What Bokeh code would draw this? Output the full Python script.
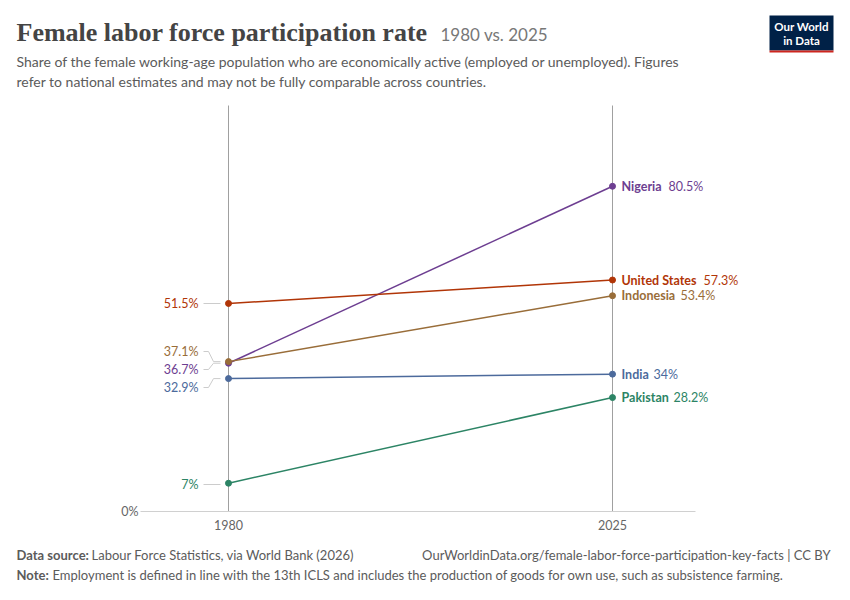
from bokeh.plotting import figure
from bokeh.models import Label, BoxAnnotation, Range1d, ColumnDataSource
from bokeh.embed import file_html
from bokeh.resources import INLINE
from bokeh.core.properties import value

countries = ["Nigeria", "United States", "Indonesia", "India", "Pakistan"]
v1980 = [36.7, 51.5, 37.1, 32.9, 7.0]
v2025 = [80.5, 57.3, 53.4, 34.0, 28.2]
lab1980 = ["36.7%", "51.5%", "37.1%", "32.9%", "7%"]
lab2025 = ["80.5%", "57.3%", "53.4%", "34%", "28.2%"]
colors = ["#6D3E91", "#B13507", "#996D39", "#4C6A9C", "#2C8465"]
years = [1980, 2025]

W, H = 834, 584
FONT = "Lato"
PX_YR = 384 / 45
PX_PCT = 4.04

p = figure(width=W, height=H, output_backend="svg", toolbar_location=None,
           x_range=Range1d(1980 - 228 / PX_YR, 1980 + (W - 228) / PX_YR),
           y_range=Range1d(-(H - 511) / PX_PCT, 511 / PX_PCT),
           min_border=0)
p.axis.visible = False
p.grid.visible = False
p.outline_line_color = None


def lab(x, y, text, size="13px", color="#5b5b5b", align="left", style="normal", font=FONT):
    p.add_layout(Label(x=x, y=H - y, x_units="screen", y_units="screen", text=text,
                       text_font=font, text_font_size=size, text_color=color,
                       text_align=align, text_baseline="middle", text_font_style=style))


def dy(py):
    return (511 - py) / PX_PCT


def dx(px):
    return 1980 + (px - 228) / PX_YR


# year verticals and baseline
for yr in years:
    p.segment(x0=yr, x1=yr, y0=0, y1=dy(105), line_color="#a0a0a0", line_width=1)
p.segment(x0=dx(140), x1=dx(695), y0=0, y1=0, line_color="#d0d0d0", line_width=1)

# slope lines
for c, a, b, col in zip(countries, v1980, v2025, colors):
    src = ColumnDataSource(dict(x=years, y=[a, b]))
    p.line("x", "y", source=src, line_color=col, line_width=1.5)
    p.scatter("x", "y", source=src, size=6, fill_color=col, line_color=col)

# right labels
name_w = [43, 78, 55, 28, 48]
for c, b, l, col, w in zip(countries, v2025, lab2025, colors, name_w):
    p.text(x=[2025], y=[b], text=[c], x_offset=9, text_font=value(FONT), text_font_size="12.5px",
           text_font_style="bold", text_color=col, text_baseline="middle")
    p.text(x=[2025], y=[b], text=[l], x_offset=9 + w + 4, text_font=value(FONT), text_font_size="12.5px",
           text_color=col, text_baseline="middle")

# left labels (placed to avoid overlap)
label_py = [369, 303, 351, 387, 484]
for v, l, col, py in zip(v1980, lab1980, colors, label_py):
    lab(198, py, l, size="12.5px", color=col, align="right")
    if abs(dy(py) - v) < 1:
        p.line(x=[dx(203), dx(220)], y=[dy(py), dy(py)], line_color="#cccccc", line_width=1)
    else:
        p.line(x=[dx(203), dx(208), dx(213), dx(220)], y=[dy(py), dy(py), v, v],
               line_color="#cccccc", line_width=1)

# axis texts
lab(138, 511, "0%", size="12.5px", color="#666666", align="right")
lab(228, 524, "1980", size="12.5px", color="#666666", align="center")
lab(612, 524, "2025", size="12.5px", color="#666666", align="center")

# titles
lab(16, 32, "Female labor force participation rate", size="26px", color="#444444",
    style="bold", font="Liberation Serif")
lab(440, 34, "1980 vs. 2025", size="17px", color="#777777", font=FONT)
lab(16, 61, "Share of the female working-age population who are economically active (employed or unemployed). Figures",
    size="14px", color="#5b5b5b")
lab(16, 81, "refer to national estimates and may not be fully comparable across countries.",
    size="14px", color="#5b5b5b")

# footer
lab(16, 554, "Data source:", size="13px", color="#5b5b5b", style="bold")
lab(91, 554, "Labour Force Statistics, via World Bank (2026)", size="13px", color="#5b5b5b")
lab(830, 554, "OurWorldinData.org/female-labor-force-participation-key-facts | CC BY", size="13px",
    color="#5b5b5b", align="right")
lab(16, 574, "Note:", size="13px", color="#5b5b5b", style="bold")
lab(52, 574, "Employment is defined in line with the 13th ICLS and includes the production of goods for own use, such as subsistence farming.",
    size="13px", color="#5b5b5b")

# logo
p.add_layout(BoxAnnotation(left=769, right=833, top=H - 15, bottom=H - 50,
                           left_units="screen", right_units="screen", top_units="screen",
                           bottom_units="screen", fill_color="#002147", fill_alpha=1, line_color=None))
p.add_layout(BoxAnnotation(left=769, right=833, top=H - 50, bottom=H - 52,
                           left_units="screen", right_units="screen", top_units="screen",
                           bottom_units="screen", fill_color="#CE261E", fill_alpha=1, line_color=None))
lab(801, 26, "Our World", size="11.5px", color="white", align="center", style="bold")
lab(801, 40, "in Data", size="11.5px", color="white", align="center", style="bold")

open("out.html", "w").write(file_html(p, INLINE))
